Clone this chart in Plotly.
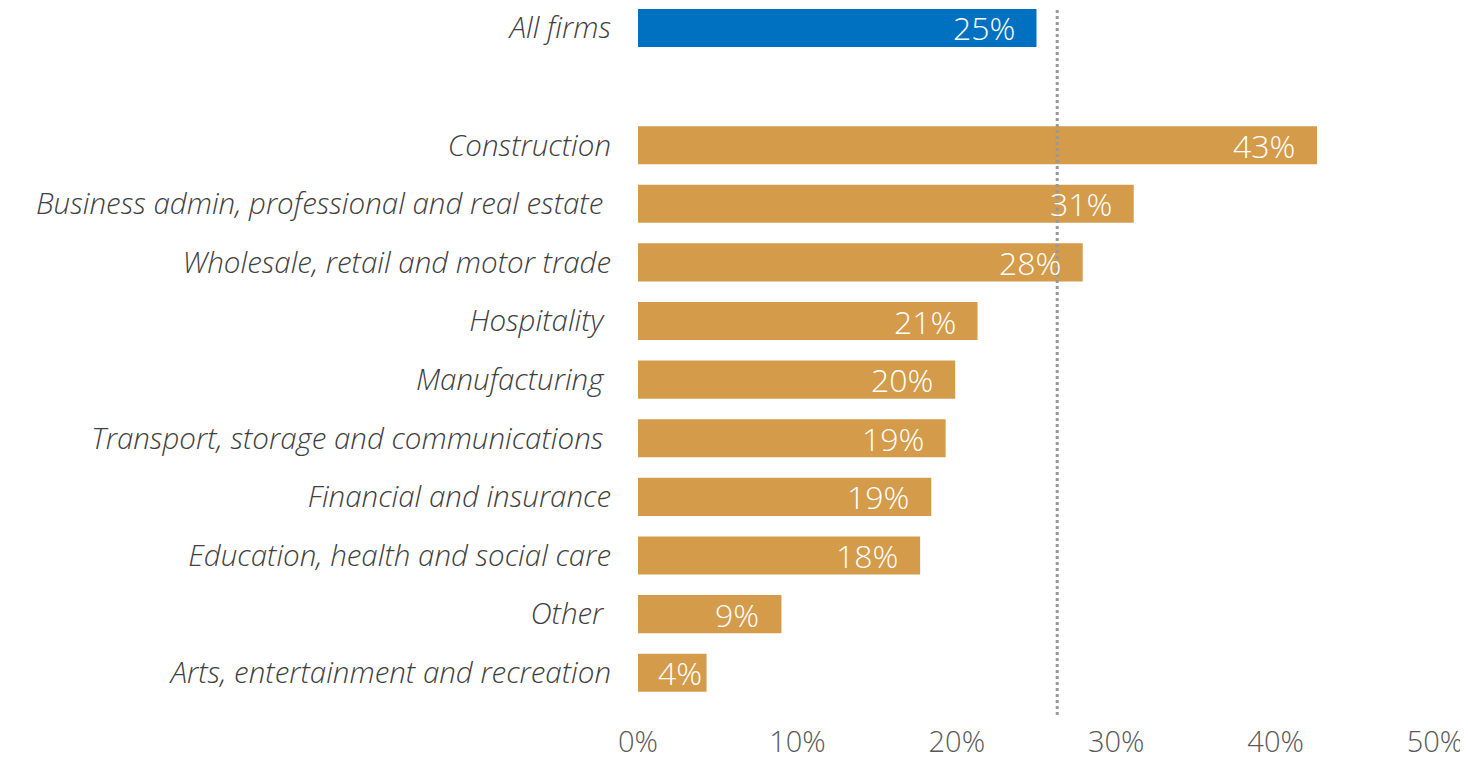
import plotly.graph_objects as go

categories = [
    "All firms",
    "Construction",
    "Business admin, professional and real estate\u00a0",
    "Wholesale, retail and motor trade",
    "Hospitality\u00a0",
    "Manufacturing\u00a0",
    "Transport, storage and communications\u00a0",
    "Financial and insurance",
    "Education, health and social care",
    "Other\u00a0",
    "Arts, entertainment and recreation",
]
values = [25.0, 42.6, 31.1, 27.9, 21.3, 19.9, 19.3, 18.4, 17.7, 9.0, 4.3]
labels = ["25%", "43%", "31%", "28%", "21%", "20%", "19%", "19%", "18%", "9%", "4%"]
colors = ["#0070C0"] + ["#D39B4A"] * 10
reference_line = 26.3
spacer = " "

x_ticks = [0, 10, 20, 30, 40, 50]
x_tick_text = ["0%", "10%", "20%", "30%", "40%", "50%"]

# bottom-to-top order with a blank slot between "All firms" and the sectors
cat_order = list(reversed(categories[1:])) + [spacer, categories[0]]

FONT = "Open Sans"

fig = go.Figure()
fig.add_trace(go.Bar(
    x=values,
    y=categories,
    orientation="h",
    marker=dict(color=colors, line=dict(width=0)),
    hoverinfo="skip",
))

for cat, val, lab in zip(categories, values, labels):
    fig.add_annotation(
        x=val, y=cat, xref="x", yref="y",
        text=lab, showarrow=False,
        xanchor="right", yanchor="middle",
        xshift=-(20 if val > 6 else 3),
        font=dict(family=FONT, size=32, color="white", weight=300),
    )

fig.add_shape(
    type="line", xref="x", yref="paper",
    x0=reference_line, x1=reference_line, y0=0, y1=1,
    line=dict(color="#999999", width=3, dash="dot"),
    layer="above",
)

# the page body adds an 8px margin, so the figure is sized 8px smaller
fig.update_layout(
    width=1460, height=751,
    margin=dict(l=630, r=33, t=0, b=44),
    paper_bgcolor="white", plot_bgcolor="white",
    bargap=0.35,
    showlegend=False,
    xaxis=dict(
        range=[0, 50], tickvals=x_ticks, ticktext=x_tick_text,
        showgrid=False, zeroline=False, showline=False, ticks="",
        tickfont=dict(family=FONT, size=29, color="#595959", weight=300),
        ticklabelstandoff=7, automargin=False,
    ),
    yaxis=dict(
        type="category", categoryorder="array", categoryarray=cat_order,
        range=[-0.72, 11.34],
        showgrid=False, zeroline=False, showline=False, ticks="",
        tickfont=dict(family=FONT, size=29.5, color="#404040", weight=300, style="italic"),
        ticklabelstandoff=26, automargin=False,
    ),
)

fig.write_html("out.html")
